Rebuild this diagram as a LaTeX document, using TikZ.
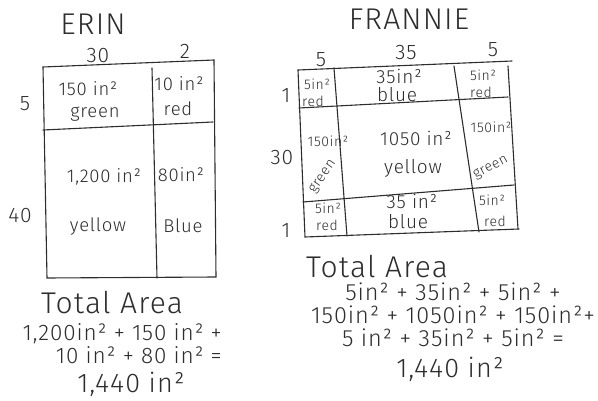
\documentclass[tikz,border=0pt]{standalone}
\usepackage{fontspec}
\setmainfont{Fira Sans Light}[LetterSpace=4]
\definecolor{ink}{RGB}{45, 45, 45}
\tikzset{
  grid/.style  = {draw=ink, line width=1.1pt, line cap=round},
  title/.style = {font=\fontsize{30}{32}\selectfont, text=ink, inner sep=0pt},
  dim/.style   = {font=\fontsize{21}{23}\selectfont, text=ink, inner sep=0pt},
  cell/.style  = {font=\fontsize{18.5}{20}\selectfont, text=ink, inner sep=0pt},
  mid/.style   = {font=\fontsize{19}{21}\selectfont, text=ink, inner sep=0pt},
  small/.style = {font=\fontsize{14}{15}\selectfont, text=ink, inner sep=0pt},
  sumE/.style  = {font=\fontsize{22.5}{23.5}\selectfont, text=ink, inner sep=0pt,
                  align=right},
  sumF/.style  = {font=\fontsize{23.5}{23}\selectfont, text=ink, inner sep=0pt,
                  align=center},
  head/.style  = {font=\fontsize{30}{32}\selectfont, text=ink, inner sep=0pt},
  res/.style   = {font=\fontsize{27}{29}\selectfont, text=ink, inner sep=0pt},
}

\begin{document}
\begin{tikzpicture}[x=1pt, y=-1pt]
\useasboundingbox (0,0) rectangle (598,401);

% ---- Erin: grid -------------------------------------------------------------
\coordinate (eTL) at (43,67);
\coordinate (eTR) at (214,60);
\coordinate (eBL) at (47,278);
\coordinate (eBR) at (216,277);
\draw[grid] (eTL) -- (eTR) -- (eBR) -- (eBL) -- cycle;
\draw[grid] (43,130) -- (213,122);
\draw[grid] (152,68) -- (157,278);

% ---- Erin: labels -----------------------------------------------------------
\node[title] (eName) at (93,24) {ERIN};
\node[dim] (eW1) at (98,56) {30};
\node[dim] (eW2) at (185,51) {2};
\node[dim] (eH1) at (25,104) {5};
\node[dim] (eH2) at (20,216) {40};

\node[cell] (eGa) at (88,89)   {150 in²};
\node[cell] (eGc) at (95,114)  {green};
\node[cell] (eRa) at (179,84)  {10 in²};
\node[cell] (eRc) at (178,109) {red};
\node[cell] (eYa) at (104,177) {1,200 in²};
\node[cell] (eYc) at (98,227)  {yellow};
\node[cell] (eBa) at (181,175) {80in²};
\node[cell] (eBc) at (183,226) {Blue};

% ---- Erin: total ------------------------------------------------------------
\node[head] (eTot) at (112,303) {Total Area};
\node[sumE, anchor=north east] (eSum) at (222,323)
  {1,200in² + 150 in² +\\10 in² + 80 in² =};
\node[res]  (eRes) at (131,384) {1,440 in²};

% ---- Frannie: grid ----------------------------------------------------------
\coordinate (fTL) at (298,70);
\coordinate (fTR) at (512,61);
\coordinate (fBL) at (305,237);
\coordinate (fBR) at (519,229);
\draw[grid] (fTL) -- (fTR);
\draw[grid] (fTL) -- (fBL) -- (fBR);
\draw[grid] (508,66) -- (518,229);
\draw[grid] (334,68) -- (347,236);
\draw[grid] (454,66) -- (479,232);
\draw[grid] (299,108) -- (508,97);
\draw[grid] (303,202) -- (514,185);

% ---- Frannie: labels --------------------------------------------------------
\node[title] (fName) at (409,19) {FRANNIE};
\node[dim] (fW1) at (321,60) {5};
\node[dim] (fW2) at (406,53) {35};
\node[dim] (fW3) at (493,50) {5};
\node[dim] (fH1) at (286,96) {1};
\node[dim] (fH2) at (282,158) {30};
\node[dim] (fH3) at (286,231) {1};

\node[small] (fRa1) at (317,84)  {5in²};
\node[small] (fRc1) at (313,101) {red};
\node[mid]   (fBa1) at (399,76)  {35in²};
\node[mid]   (fBc1) at (397,95)  {blue};
\node[small] (fRa2) at (483,75)  {5in²};
\node[small] (fRc2) at (481,92)  {red};
\node[small] (fGa1) at (328,141) {150in²};
\node[small, rotate=55] (fGc1) at (323,177) {green};
\node[mid]   (fYa)  at (416,138) {1050 in²};
\node[mid]   (fYc)  at (413,168) {yellow};
\node[small] (fGa2) at (491,127) {150in²};
\node[small, rotate=28] (fGc2) at (491,168) {green};
\node[small] (fRa3) at (328,208) {5in²};
\node[small] (fRc3) at (327,225) {red};
\node[mid]   (fBa2) at (412,201) {35 in²};
\node[mid]   (fBc2) at (408,222) {blue};
\node[small] (fRa4) at (492,200) {5in²};
\node[small] (fRc4) at (495,221) {red};

% ---- Frannie: total ---------------------------------------------------------
\node[head] (fTot) at (377,267) {Total Area};
\node[sumF, anchor=north] (fSum) at (453,283)
  {5in² + 35in² + 5in² +\\150in² + 1050in² + 150in²+\\5 in² + 35in² + 5in² =};
\node[res]  (fRes) at (450,369) {1,440 in²};

\end{tikzpicture}
\end{document}
